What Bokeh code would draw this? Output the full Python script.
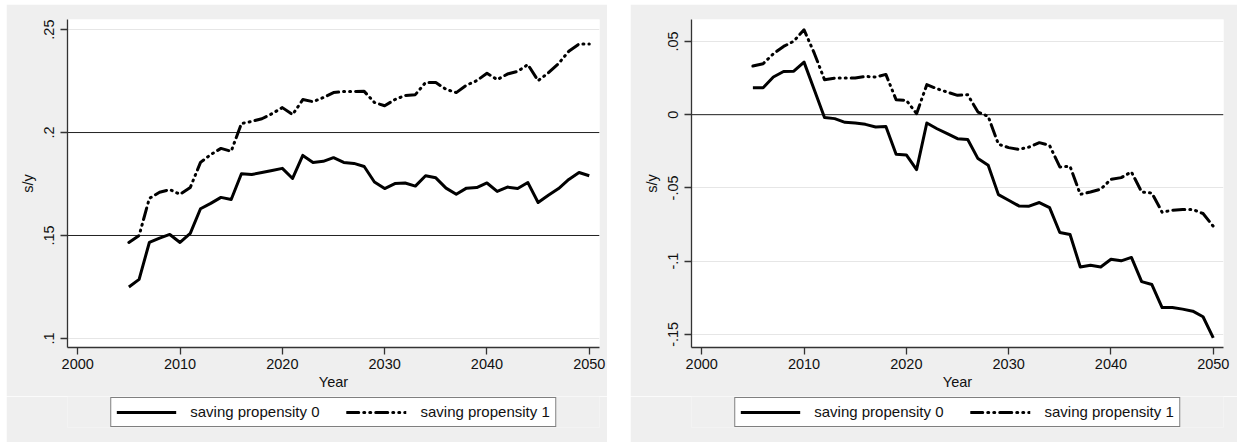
from bokeh.plotting import figure
from bokeh.layouts import row, column
from bokeh.models import FixedTicker, Span, Legend, LegendItem, Range1d
from bokeh.embed import file_html
from bokeh.resources import INLINE

years = list(range(2005, 2051))

left_sp0 = [0.125, 0.1287, 0.1466, 0.1487, 0.1505, 0.1466, 0.151, 0.163, 0.1656, 0.1685,
            0.1675, 0.180, 0.1796, 0.1806, 0.1816, 0.1826, 0.1777, 0.1889, 0.1855, 0.186,
            0.1878, 0.1855, 0.185, 0.1835, 0.176, 0.1728, 0.1752, 0.1755, 0.174, 0.179,
            0.178, 0.173, 0.170, 0.173, 0.1733, 0.1755, 0.1714, 0.1735, 0.1728, 0.1757,
            0.166, 0.1695, 0.1728, 0.1772, 0.1806, 0.179]
left_sp1 = [0.1466, 0.150, 0.168, 0.171, 0.1723, 0.170, 0.1733, 0.1855, 0.1893, 0.1923,
            0.1909, 0.2044, 0.2054, 0.2067, 0.2092, 0.2121, 0.2087, 0.216, 0.215, 0.217,
            0.2194, 0.2199, 0.2199, 0.220, 0.2146, 0.213, 0.216, 0.218, 0.2184, 0.2243,
            0.2243, 0.221, 0.2194, 0.223, 0.2252, 0.2288, 0.2257, 0.2284, 0.2297, 0.233,
            0.2252, 0.229, 0.2335, 0.2395, 0.243, 0.243]
right_sp0 = [0.0184, 0.0184, 0.0257, 0.0295, 0.0297, 0.0359, 0.017, -0.002, -0.0027, -0.0052,
             -0.0057, -0.0066, -0.0084, -0.008, -0.027, -0.0275, -0.0375, -0.0057, -0.0096, -0.013,
             -0.0164, -0.017, -0.030, -0.0346, -0.0546, -0.0584, -0.0623, -0.0625, -0.060, -0.0635,
             -0.0805, -0.0818, -0.104, -0.1028, -0.104, -0.0987, -0.0998, -0.0975, -0.114, -0.116,
             -0.1317, -0.1317, -0.1328, -0.1342, -0.138, -0.1524]
right_sp1 = [0.0332, 0.0348, 0.0416, 0.0466, 0.0502, 0.058, 0.042, 0.0239, 0.025, 0.025,
             0.025, 0.0261, 0.0257, 0.0275, 0.0102, 0.0098, 0.0007, 0.0205, 0.0177, 0.0154,
             0.0132, 0.0136, 0.0018, -0.0012, -0.0202, -0.0225, -0.0237, -0.0221, -0.0191, -0.021,
             -0.0357, -0.0353, -0.0544, -0.0528, -0.0509, -0.0441, -0.043, -0.0391, -0.0528, -0.0535,
             -0.0666, -0.0653, -0.0648, -0.0648, -0.0675, -0.0762]

x_ticks = [2000, 2010, 2020, 2030, 2040, 2050]
left_y_ticks = [0.10, 0.15, 0.20, 0.25]
left_y_labels = [".1", ".15", ".2", ".25"]
right_y_ticks = [-0.15, -0.10, -0.05, 0.0, 0.05]
right_y_labels = ["-.15", "-.1", "-.05", "0", ".05"]
left_ref_lines = [0.15, 0.20]
right_ref_lines = [0.0]
series_labels = ["saving propensity 0", "saving propensity 1"]
x_title = "Year"
y_title = "s/y"

FONT = "Liberation Sans"
BG = "#EFEFEF"
DASHDOT = "12 5 1 5 1 5"


def make_panel(s0, s1, yr, yticks, ylabels, refs, width, border_right):
    p = figure(width=width, height=392, x_range=Range1d(1999.0, 2051.0),
               y_range=Range1d(*yr), output_backend="svg", toolbar_location=None,
               min_border_left=61, min_border_right=border_right,
               min_border_top=15, min_border_bottom=49,
               background_fill_color="white", border_fill_color=BG,
               outline_line_color=None)
    p.xgrid.grid_line_color = None
    p.ygrid.ticker = FixedTicker(ticks=yticks)
    p.ygrid.grid_line_color = "#E6E6E6"
    p.ygrid.grid_line_width = 1

    for v in refs:
        p.add_layout(Span(location=v, dimension="width", line_color="#222222",
                          line_width=1, level="underlay"))

    p.line(years, s0, line_color="black", line_width=3, line_join="round")
    p.line(years, s1, line_color="black", line_width=3, line_join="round",
           line_cap="round", line_dash=DASHDOT)

    p.xaxis.ticker = FixedTicker(ticks=x_ticks)
    p.yaxis.ticker = FixedTicker(ticks=yticks)
    p.yaxis.major_label_overrides = dict(zip(yticks, ylabels))
    p.yaxis.major_label_orientation = "vertical"
    p.xaxis.axis_label = x_title
    p.yaxis.axis_label = y_title
    for ax in (p.xaxis, p.yaxis):
        ax.axis_line_color = "#333333"
        ax.axis_line_width = 1.3
        ax.major_tick_line_color = "#333333"
        ax.major_tick_line_width = 1.3
        ax.major_tick_out = 7
        ax.major_tick_in = 0
        ax.minor_tick_line_color = None
        ax.major_label_text_font = FONT
        ax.major_label_text_font_size = "14.5px"
        ax.major_label_text_color = "#111111"
        ax.axis_label_text_font = FONT
        ax.axis_label_text_font_size = "14.5px"
        ax.axis_label_text_font_style = "normal"
        ax.axis_label_text_color = "#111111"
    p.xaxis.major_label_standoff = 4
    p.xaxis.axis_label_standoff = 2
    p.yaxis.major_label_standoff = 6
    p.yaxis.axis_label_standoff = 6
    return p


def make_legend_fig(s0, s1, width, border_left):
    # the legend strip: its key lines use the series data but lie outside the strip's ranges
    lf = figure(width=width, height=46, x_range=Range1d(0, 1), y_range=Range1d(0, 1),
                output_backend="svg", toolbar_location=None,
                x_axis_type=None, y_axis_type=None,
                min_border_left=border_left, min_border_right=0,
                min_border_top=0, min_border_bottom=15,
                background_fill_color=BG, border_fill_color=BG,
                outline_line_color=None)
    g0 = lf.line(years, s0, line_color="black", line_width=3)
    g1 = lf.line(years, s1, line_color="black", line_width=3, line_cap="round",
                 line_dash=DASHDOT)
    legend = Legend(items=[LegendItem(label=series_labels[0], renderers=[g0]),
                           LegendItem(label=series_labels[1], renderers=[g1])],
                    orientation="horizontal", location="center",
                    border_line_color="black", border_line_width=1,
                    background_fill_color="white", background_fill_alpha=1,
                    label_text_font=FONT, label_text_font_size="15px",
                    label_text_color="#111111",
                    glyph_width=60, glyph_height=18, label_height=18,
                    label_standoff=14, spacing=27, padding=5, margin=0)
    lf.add_layout(legend)
    return lf


p1 = make_panel(left_sp0, left_sp1, (0.0956, 0.2549), left_y_ticks, left_y_labels,
                left_ref_lines, 601, 8)
p2 = make_panel(right_sp0, right_sp1, (-0.159, 0.065), right_y_ticks, right_y_labels,
                right_ref_lines, 607, 14)
l1 = make_legend_fig(left_sp0, left_sp1, 601, 53)
l2 = make_legend_fig(right_sp0, right_sp1, 607, 47)

c1 = column(p1, l1, spacing=0)
c2 = column(p2, l2, spacing=0)
c1.margin = (4, 0, 0, 6)
c2.margin = (4, 0, 0, 23)

layout = row(c1, c2, spacing=0)
open("out.html", "w").write(file_html(layout, INLINE))
